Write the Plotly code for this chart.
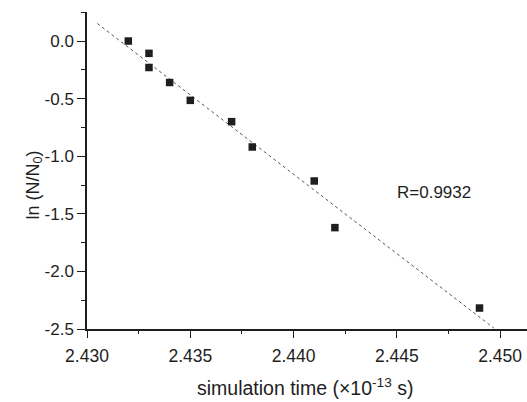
import numpy as np
import plotly.graph_objects as go

time_x = [2.432, 2.433, 2.433, 2.434, 2.435, 2.437, 2.438, 2.441, 2.442, 2.449]
ln_ratio = [0.0, -0.107, -0.23, -0.36, -0.515, -0.70, -0.92, -1.215, -1.62, -2.318]
fit_x_range = [2.4305, 2.4497]
y_ticks = [0.0, -0.5, -1.0, -1.5, -2.0, -2.5]
y_tick_labels = ["0.0", "-0.5", "-1.0", "-1.5", "-2.0", "-2.5"]
x_ticks = [2.430, 2.435, 2.440, 2.445, 2.450]
x_tick_labels = ["2.430", "2.435", "2.440", "2.445", "2.450"]
r_text = "R=0.9932"

slope, intercept = np.polyfit(time_x, ln_ratio, 1)
fx = np.array(fit_x_range)
fy = slope * fx + intercept

FONT = "Liberation Sans, Arial, sans-serif"
C = "#1e1e1e"

fig = go.Figure()
fig.add_trace(go.Scatter(x=fx, y=fy, mode="lines",
                         line=dict(color="#555555", width=1, dash="dot"),
                         showlegend=False, hoverinfo="skip"))
fig.add_trace(go.Scatter(x=time_x, y=ln_ratio, mode="markers",
                         marker=dict(symbol="square", size=7.5, color=C),
                         showlegend=False))

fig.update_layout(
    width=527, height=402,
    margin=dict(l=87, r=0, t=12, b=73, autoexpand=False),
    plot_bgcolor="white", paper_bgcolor="white",
    font=dict(family=FONT, size=17, color=C),
    xaxis=dict(range=[2.430, 2.4513], tickvals=x_ticks, ticktext=x_tick_labels,
               automargin=False, ticklabelstandoff=3,
               ticks="outside", ticklen=7, tickwidth=1.2, tickcolor=C,
               showline=True, linecolor=C, linewidth=1.5, showgrid=False, zeroline=False,
               minor=dict(dtick=0.0025, tick0=2.430, ticks="outside", ticklen=3, tickcolor=C, showgrid=False),
               tickfont=dict(size=17.5)),
    yaxis=dict(range=[-2.5, 0.252], tickvals=y_ticks, ticktext=y_tick_labels,
               automargin=False,
               ticks="outside", ticklen=8, tickwidth=1.2, tickcolor=C,
               showline=True, linecolor=C, linewidth=1.5, showgrid=False, zeroline=False,
               minor=dict(dtick=0.25, tick0=0, ticks="outside", ticklen=4, tickcolor=C, showgrid=False),
               tickfont=dict(size=17)),
)

fig.add_annotation(xref="paper", yref="paper", x=(305 - 87) / 440, y=-(387 - 329) / 317,
                   yanchor="middle", text="simulation time (×10<sup>-13</sup> s)",
                   showarrow=False, font=dict(size=19.5))
fig.add_annotation(xref="x", yref="y", x=2.4449, y=-1.319, text=r_text, xanchor="left",
                   showarrow=False, font=dict(size=17))
fig.add_annotation(xref="paper", yref="paper", x=(21 - 87) / 440, y=(329 - 185) / 317,
                   text="ln (N/N<sub>0</sub>)", textangle=-90, showarrow=False,
                   font=dict(size=18))

fig.write_html("out.html", config={"displayModeBar": False},
               post_script="document.body.style.margin='0';document.body.style.overflow='hidden';")
